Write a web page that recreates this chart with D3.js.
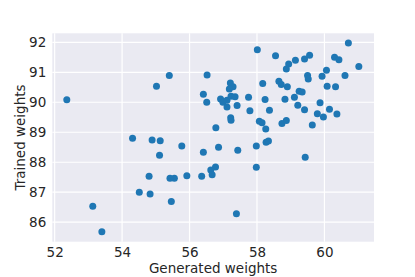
<!DOCTYPE html>
<html>
<head>
<meta charset="utf-8">
<script src="https://cdn.jsdelivr.net/npm/d3@7"></script>
<style>
  body { margin: 0; background: #fff; }
  text { font-family: "DejaVu Sans", sans-serif; fill: #262626; }
</style>
</head>
<body>
<div id="grafica"></div>
<script>
// --- datos
const generated = [
  52.36, 55.02, 54.31, 54.89, 55.13, 55.11, 54.80, 54.51, 54.83, 53.13,
  53.40, 55.40, 56.52, 58.01, 58.17, 56.41, 56.51, 57.21, 57.29, 57.18,
  56.92, 56.99, 57.11, 57.23, 57.35, 57.11, 57.41, 57.75, 57.79, 58.24,
  57.22, 57.23, 56.78, 58.07, 58.15, 58.26, 58.37, 55.77, 56.41, 56.86,
  57.43, 57.98, 58.27, 58.34, 56.77, 56.63, 56.67, 56.36, 55.92, 55.55,
  55.42, 55.46, 57.39, 57.98, 60.71, 58.55, 58.94, 59.14, 58.87, 59.41,
  59.56, 60.30, 60.43, 61.02, 59.50, 59.52, 59.93, 60.06, 60.61, 60.08,
  60.33, 58.65, 58.72, 58.90, 59.25, 59.34, 59.11, 58.83, 59.21, 59.41,
  59.87, 59.79, 59.97, 60.15, 60.37, 58.74, 58.87, 59.64, 59.43
];
const trained = [
  90.08, 90.53, 88.80, 88.74, 88.72, 88.23, 87.53, 87.00, 86.94, 86.53,
  85.68, 90.89, 90.91, 91.75, 90.63, 90.27, 90.00, 90.64, 90.52, 90.44,
  90.11, 90.00, 90.07, 90.20, 90.18, 89.84, 89.89, 90.17, 89.72, 90.09,
  89.48, 89.40, 89.15, 89.37, 89.32, 89.11, 89.73, 88.54, 88.33, 88.50,
  88.40, 88.54, 88.67, 88.71, 87.84, 87.74, 87.58, 87.53, 87.55, 87.47,
  87.47, 86.69, 86.28, 87.83, 91.98, 91.55, 91.28, 91.40, 91.11, 91.44,
  91.57, 91.50, 91.42, 91.19, 90.89, 90.78, 90.87, 91.07, 90.89, 90.53,
  90.52, 90.70, 90.59, 90.52, 90.37, 90.34, 90.17, 90.10, 89.90, 89.75,
  89.98, 89.62, 89.51, 89.77, 89.61, 89.29, 89.39, 89.24, 88.17
];
const xTicks = [52, 54, 56, 58, 60];
const yTicks = [86, 87, 88, 89, 90, 91, 92];
const xDomain = [51.93, 61.47];
const yDomain = [85.35, 92.3];

const widthApp = 415, heightApp = 277;
const margin = { left: 52.3, right: 41, top: 33.3, bottom: 35.3 };
const plotW = widthApp - margin.left - margin.right;
const plotH = heightApp - margin.top - margin.bottom;

const x = d3.scaleLinear().domain(xDomain).range([0, plotW]);
const y = d3.scaleLinear().domain(yDomain).range([plotH, 0]);

const svg = d3.select("#grafica")
              .append('svg')
              .attr('width', widthApp)
              .attr('height', heightApp);

const grafica = svg.append('g')
              .attr('transform', `translate(${margin.left},${margin.top})`);

grafica.append('rect')
       .attr('width', plotW)
       .attr('height', plotH)
       .attr('fill', '#EAEAF2');

// rejilla
grafica.selectAll('line.gx')
       .data(xTicks)
       .enter()
       .append('line')
       .attr('class', 'gx')
       .attr('x1', (d) => x(d)).attr('x2', (d) => x(d))
       .attr('y1', 0).attr('y2', plotH)
       .attr('stroke', '#fff').attr('stroke-width', 1.2);
grafica.selectAll('line.gy')
       .data(yTicks)
       .enter()
       .append('line')
       .attr('class', 'gy')
       .attr('y1', (d) => y(d)).attr('y2', (d) => y(d))
       .attr('x1', 0).attr('x2', plotW)
       .attr('stroke', '#fff').attr('stroke-width', 1.2);

// ejes (sin lineas, solo etiquetas)
const xAxis = grafica.append('g')
       .attr('transform', `translate(0,${plotH})`)
       .call(d3.axisBottom(x).tickValues(xTicks).tickSize(0).tickPadding(6).tickFormat(d3.format('d')));
const yAxis = grafica.append('g')
       .call(d3.axisLeft(y).tickValues(yTicks).tickSize(0).tickPadding(6).tickFormat(d3.format('d')));
[xAxis, yAxis].forEach((ax) => {
  ax.select('.domain').remove();
  ax.selectAll('text')
    .style('font-family', '"DejaVu Sans", sans-serif')
    .style('font-size', '13.5px')
    .attr('fill', '#262626');
});

// puntos
grafica.selectAll('circle')
       .data(generated.map((g, i) => [g, trained[i]]))
       .enter()
       .append('circle')
       .attr('cx', (d) => x(d[0]))
       .attr('cy', (d) => y(d[1]))
       .attr('r', 3.5)
       .attr('fill', '#1f77b4');

// titulos de ejes
svg.append('text')
   .attr('x', margin.left + plotW / 2)
   .attr('y', 273)
   .attr('text-anchor', 'middle')
   .style('font-size', '13.5px')
   .text('Generated weights');
svg.append('text')
   .attr('transform', `translate(25,${margin.top + plotH / 2}) rotate(-90)`)
   .attr('text-anchor', 'middle')
   .style('font-size', '13.5px')
   .text('Trained weights');
</script>
</body>
</html>
